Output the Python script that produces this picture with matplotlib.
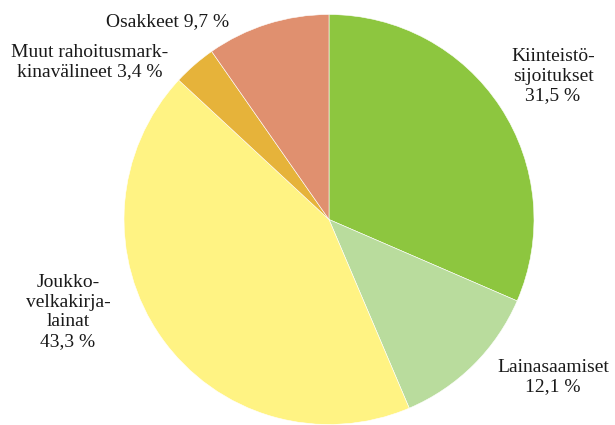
import matplotlib.pyplot as plt

# Allocation shares (%), clockwise from 12 o'clock
labels = ['Kiinteistö-\nsijoitukset\n31,5 %', 'Lainasaamiset\n12,1 %',
          'Joukko-\nvelkakirja-\nlainat\n43,3 %',
          'Muut rahoitusmark-\nkinavälineet 3,4 %', 'Osakkeet 9,7 %']
values = [31.5, 12.1, 43.3, 3.4, 9.7]
colors = ['#8DC63F', '#B9DC9D', '#FFF383', '#E6B33A', '#E0906F']

# label centres in pixel coordinates (x, y from top)
label_pos = [(553, 76), (553, 377), (68, 312), (90, 62), (168, 22)]

fig = plt.figure(figsize=(6.15, 4.25), dpi=100)
ax = fig.add_axes([0, 0, 1, 1])

# y axis is inverted, so counterclock=True draws clockwise on screen
ax.pie(values, colors=colors, startangle=-90, counterclock=True,
       center=(329, 219.5), radius=205,
       wedgeprops=dict(edgecolor='white', linewidth=0.4))
ax.set_xlim(0, 615)
ax.set_ylim(425, 0)
ax.set_aspect('equal')
ax.axis('off')

for text, (x, y) in zip(labels, label_pos):
    ax.text(x, y, text, ha='center', va='center', family='Liberation Serif',
            fontsize=14, linespacing=1.2, color='#1a1a1a')

fig.savefig('out.png')
